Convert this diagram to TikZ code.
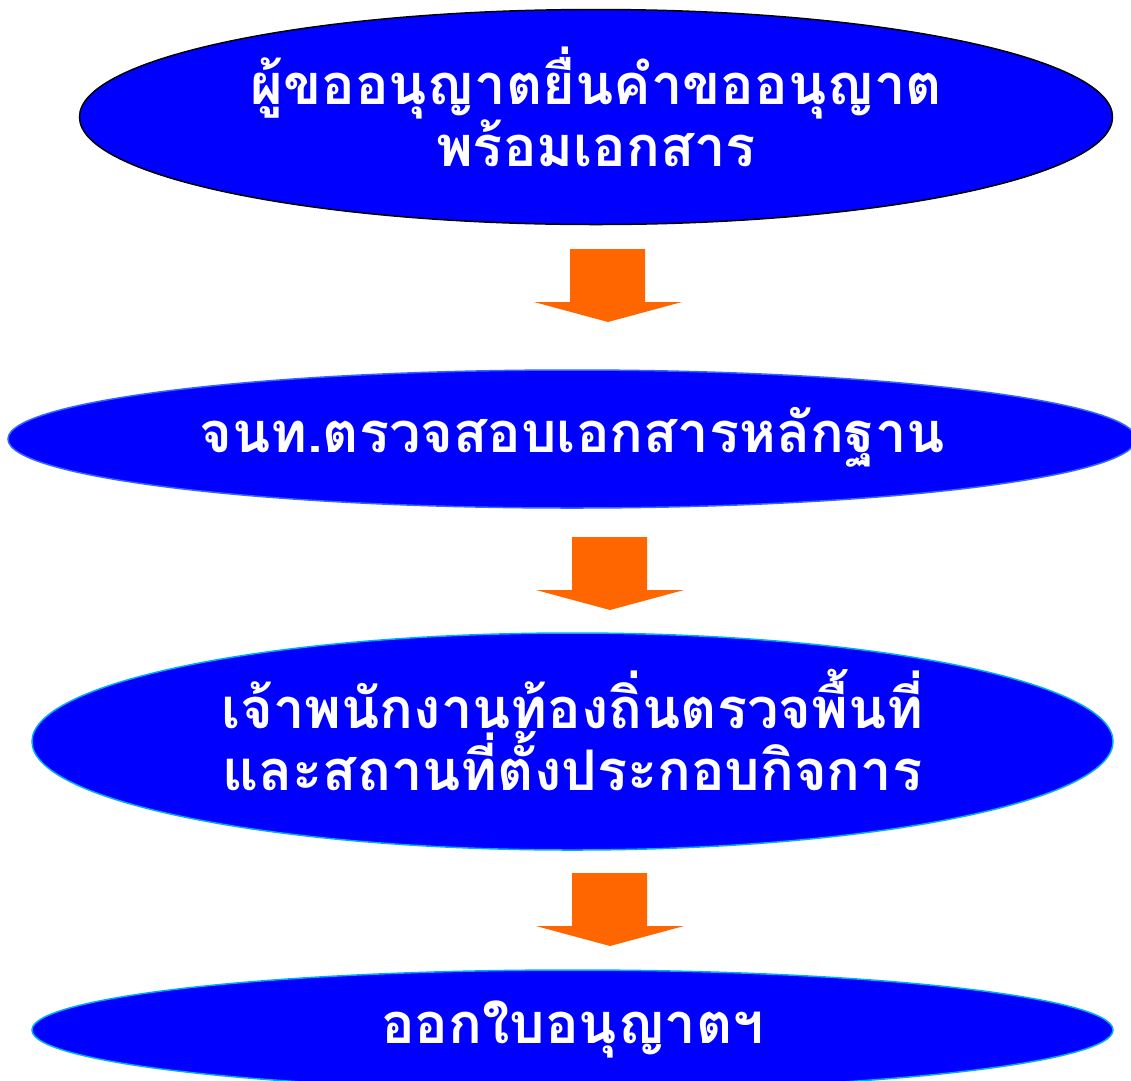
\documentclass[tikz,border=0pt]{standalone}
\usepackage{fontspec}
\newfontfamily\thaifont[Script=Thai]{Loma}
\usetikzlibrary{shapes.geometric}
\definecolor{stepblue}{HTML}{0000FF}
\definecolor{steporange}{HTML}{FF6600}
\definecolor{rimblue}{HTML}{3366FF}
\tikzset{%
  stepnode/.style = {shape=ellipse, draw, line width=1.5pt, fill=stepblue,%
                     inner sep=0pt},%
  steptext/.style = {align=center, text=white, inner sep=0pt,%
                     font=\thaifont\bfseries\fontsize{56}{62}\selectfont},%
  blockarrow/.style = {fill=steporange}%
}
\begin{document}
\begin{tikzpicture}[x=1pt,y=-1pt]
	\useasboundingbox (0,0) rectangle (1131,1080);
	\node [stepnode, draw=black, minimum width=1033pt, minimum height=215pt,
		label={[steptext, yshift=10pt]center:{ผู้ขออนุญาตยื่นคำขออนุญาต\\พร้อมเอกสาร}}] (apply) at (596,117) {};
	\node [stepnode, draw=rimblue, minimum width=1128pt, minimum height=138pt,
		label={[steptext, yshift=2pt]center:จนท.ตรวจสอบเอกสารหลักฐาน}] (check) at (572,439) {};
	\node [stepnode, draw=cyan, minimum width=1081pt, minimum height=217pt,
		label={[steptext, yshift=12pt]center:{เจ้าพนักงานท้องถิ่นตรวจพื้นที่\\และสถานที่ตั้งประกอบกิจการ}}] (visit) at (572.5,741.5) {};
	\node [stepnode, draw=cyan, minimum width=1081pt, minimum height=120pt,
		label={[steptext, yshift=1pt]center:ออกใบอนุญาตฯ}] (issue) at (572.5,1030) {};
	% block arrows between the steps
	\foreach \x/\y in {608/249, 610/537, 610/873}
		\fill [blockarrow] (\x-38,\y) -- (\x+37,\y) -- (\x+37,\y+53) -- (\x+74,\y+53)
			-- (\x,\y+73) -- (\x-74,\y+53) -- (\x-38,\y+53) -- cycle;
\end{tikzpicture}
\end{document}
